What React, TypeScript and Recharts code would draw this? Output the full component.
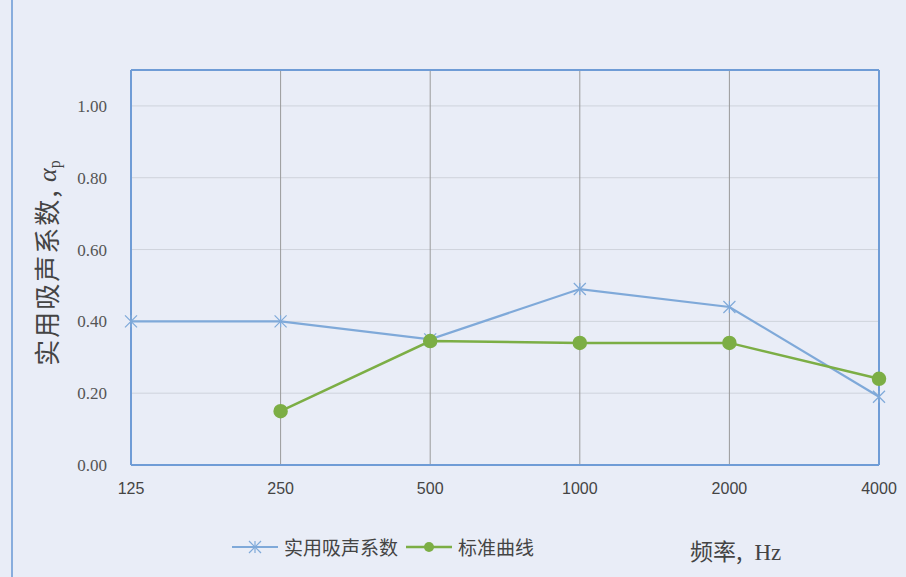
import React from 'react';
import { LineChart, Line, XAxis, YAxis, CartesianGrid, ReferenceLine } from 'recharts';

const frequencies = ['125', '250', '500', '1000', '2000', '4000'];
const practicalCoef = [0.4, 0.4, 0.35, 0.49, 0.44, 0.19];
const standardCurve = [null, 0.15, 0.345, 0.34, 0.34, 0.24];
const yTicks = [0, 0.2, 0.4, 0.6, 0.8, 1.0];
const seriesNames = ['实用吸声系数', '标准曲线'];

const BLUE = '#7fa9d9';
const GREEN = '#7cae45';
const BORDER = '#6f9cd6';

const data = frequencies.map((f, i) => ({
  freq: f,
  practical: practicalCoef[i],
  standard: standardCurve[i],
}));

const StarDot = (props: any) => {
  const { cx, cy } = props;
  if (cx == null || cy == null) return null;
  const r = 6;
  return (
    <g stroke={BLUE} strokeWidth={1.2}>
      <line x1={cx - r} y1={cy - r} x2={cx + r} y2={cy + r} />
      <line x1={cx - r} y1={cy + r} x2={cx + r} y2={cy - r} />
      <line x1={cx} y1={cy - r} x2={cx} y2={cy + r} />
    </g>
  );
};

const YLabel = () => (
  <text
    x={50}
    y={263}
    transform="rotate(-90 50 263)"
    textAnchor="middle"
    dominantBaseline="middle"
    fill="#444"
    fontSize={26}
    letterSpacing={2}
    fontFamily="'Noto Sans CJK SC', sans-serif"
  >
    实用吸声系数,
    <tspan fontFamily="'Liberation Serif', serif" fontStyle="italic" letterSpacing={0}> α</tspan>
    <tspan fontFamily="'Liberation Serif', serif" fontSize={16} dy={6} letterSpacing={0}>p</tspan>
  </text>
);

const LegendContent = () => (
  <div style={{ display: 'flex', alignItems: 'center', fontFamily: "'Noto Sans CJK SC', sans-serif", fontSize: 19, color: '#444' }}>
    <svg width={46} height={16}>
      <line x1={0} y1={8} x2={46} y2={8} stroke={BLUE} strokeWidth={2} />
      <StarDot cx={23} cy={8} />
    </svg>
    <span style={{ marginLeft: 6, marginRight: 8 }}>{seriesNames[0]}</span>
    <svg width={46} height={16}>
      <line x1={0} y1={8} x2={46} y2={8} stroke={GREEN} strokeWidth={2.5} />
      <circle cx={23} cy={8} r={5} fill={GREEN} />
    </svg>
    <span style={{ marginLeft: 6 }}>{seriesNames[1]}</span>
  </div>
);

export default function App() {
  return (
    <div style={{ position: 'absolute', left: 0, top: 0, width: 906, height: 577, background: '#e9edf7', overflow: 'hidden' }}>
      <div style={{ position: 'absolute', left: 11, top: 0, width: 2, height: 577, background: BORDER, opacity: 0.8 }} />
      <LineChart
        width={906}
        height={577}
        data={data}
        margin={{ top: 70, right: 27, left: 61, bottom: 82 }}
      >
        <CartesianGrid horizontal={true} vertical={false} stroke="#cfd3dc" />
        <CartesianGrid horizontal={false} vertical={true} stroke="#9a9a9a" />
        <XAxis
          dataKey="freq"
          padding={{ left: 0, right: 0 }}
          axisLine={{ stroke: BORDER, strokeWidth: 2 }}
          tickLine={false}
          tickSize={0}
          tickMargin={18}
          height={30}
          tick={{ fill: '#444', fontSize: 16, fontFamily: "'Liberation Sans', sans-serif" }}
          interval={0}
        />
        <YAxis
          domain={[0, 1.1]}
          ticks={yTicks}
          width={70}
          axisLine={{ stroke: BORDER, strokeWidth: 2 }}
          tickLine={false}
          tickSize={0}
          tickMargin={24}
          tickFormatter={(v: number) => v.toFixed(2)}
          tick={{ fill: '#555', fontSize: 17, fontFamily: "'Liberation Serif', serif" }}
        />
        <ReferenceLine y={1.1} stroke={BORDER} strokeWidth={2} />
        <ReferenceLine x="4000" stroke={BORDER} strokeWidth={2} />
        <Line
          dataKey="practical"
          name={seriesNames[0]}
          stroke={BLUE}
          strokeWidth={2.2}
          dot={<StarDot />}
          activeDot={false}
          isAnimationActive={false}
        />
        <Line
          dataKey="standard"
          name={seriesNames[1]}
          stroke={GREEN}
          strokeWidth={2.5}
          dot={{ r: 6, fill: GREEN, stroke: GREEN }}
          activeDot={false}
          isAnimationActive={false}
        />
        <YLabel />
      </LineChart>
      <div style={{ position: 'absolute', left: 232, top: 533 }}>
        <LegendContent />
      </div>
      <div
        style={{
          position: 'absolute',
          left: 690,
          top: 533,
          fontSize: 23,
          color: '#444',
          fontFamily: "'Noto Sans CJK SC', sans-serif",
        }}
      >
        频率,<span style={{ fontFamily: "'Liberation Serif', serif", marginLeft: 12 }}>Hz</span>
      </div>
    </div>
  );
}
